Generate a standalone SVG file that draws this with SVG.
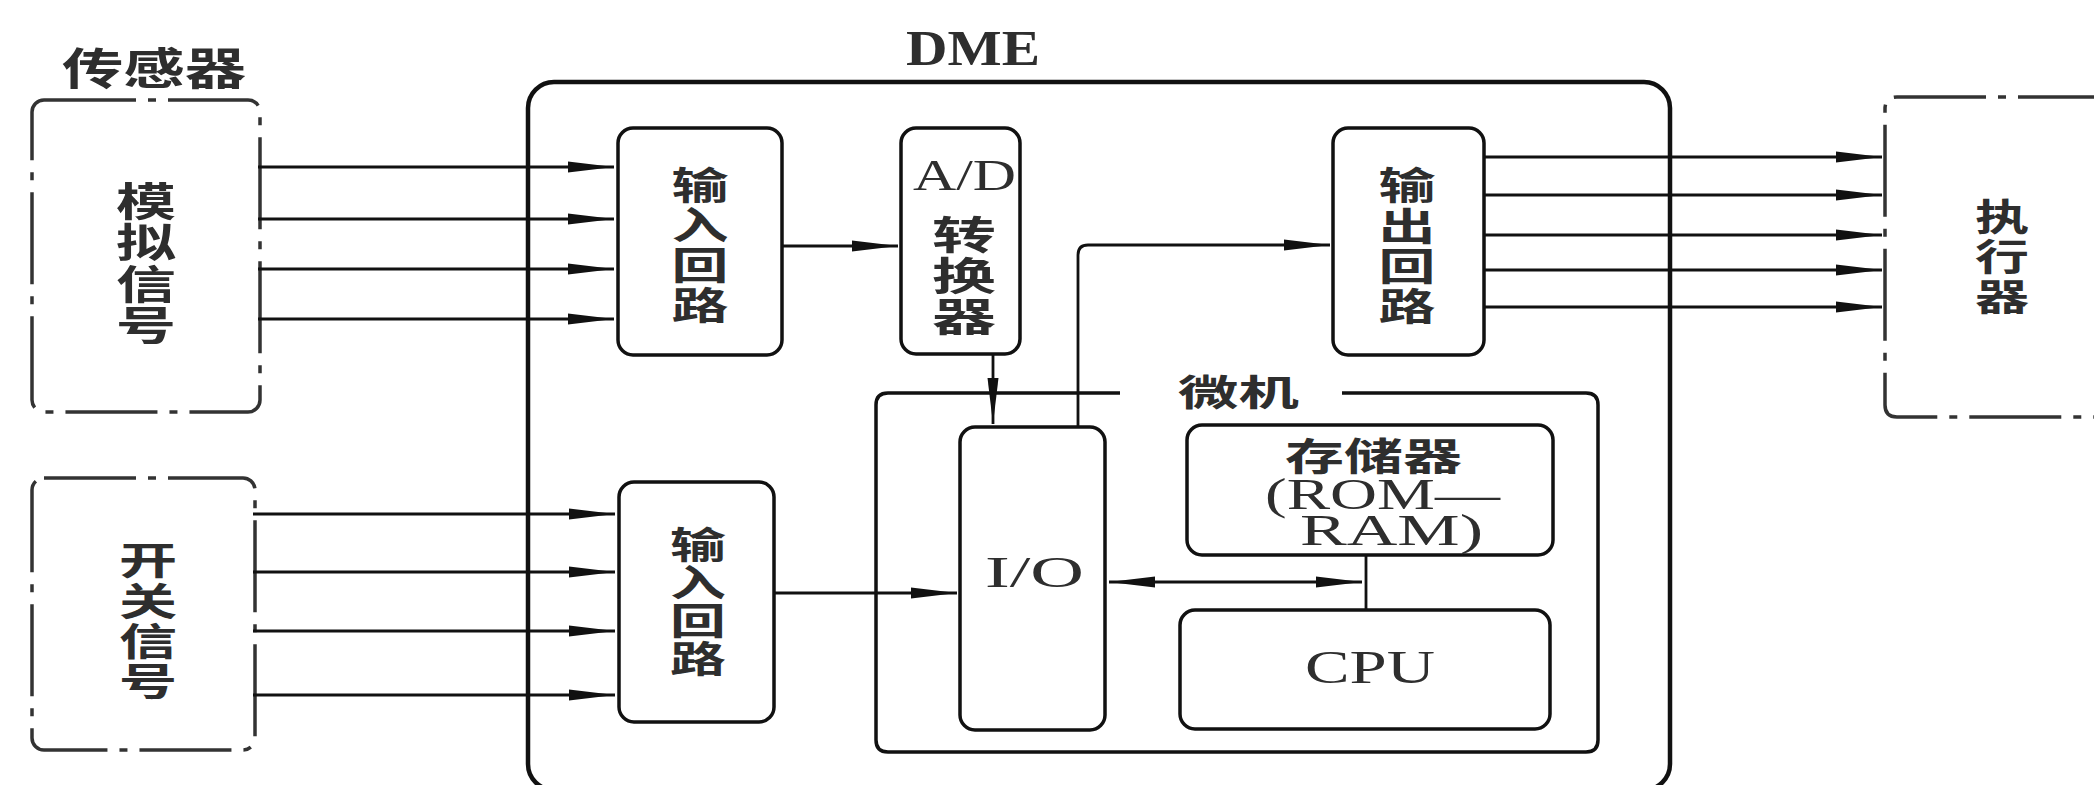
<svg xmlns="http://www.w3.org/2000/svg" width="2094" height="785" viewBox="0 0 2094 785">
<style>
.box{fill:none;stroke:#111;stroke-width:3.5}
.dme{fill:none;stroke:#111;stroke-width:4.5}
.dash{fill:none;stroke:#333;stroke-width:3.5;stroke-dasharray:92 12 8 12}
.ln{fill:none;stroke:#111;stroke-width:2.8}
.arr{marker-end:url(#ah)}
.cjk{font-family:"Noto Sans CJK SC","Noto Sans CJK JP",sans-serif;font-weight:bold;fill:#2e2e2e}
.vt{writing-mode:vertical-rl}
.lat{font-family:"Liberation Serif","Times New Roman",serif;fill:#2e2e2e}
</style>
<defs>
<marker id="ah" markerUnits="userSpaceOnUse" markerWidth="52" markerHeight="14" refX="46" refY="6" orient="auto-start-reverse">
<path d="M0,0.5 L46,6 L0,11.5 Z" fill="#111"/>
</marker>
</defs>
<rect width="2094" height="785" fill="#fff"/>

<g id="sensor">
<text class="cjk" x="62" y="85" font-size="44" textLength="184" lengthAdjust="spacingAndGlyphs">传感器</text>
<rect class="dash" x="32" y="100" width="228" height="312" rx="12"/>
<text class="cjk vt" font-size="40" letter-spacing="1.3" transform="translate(146,0) scale(1.5,1)" x="0" y="181">模拟信号</text>
</g>

<g id="switch">
<rect class="dash" x="32" y="478" width="223" height="272" rx="12"/>
<text class="cjk vt" font-size="38" letter-spacing="2.3" transform="translate(148,0) scale(1.53,1)" x="0" y="541">开关信号</text>
</g>

<g id="dme">
<text class="lat" x="906" y="65" font-size="50" font-weight="bold" textLength="134" lengthAdjust="spacingAndGlyphs">DME</text>
<rect class="dme" x="528" y="82" width="1142" height="708" rx="26"/>
</g>

<g id="input1">
<rect class="box" x="618" y="128" width="164" height="227" rx="15"/>
<text class="cjk vt" font-size="38" letter-spacing="1.7" transform="translate(700,0) scale(1.5,1)" x="0" y="166">输入回路</text>
</g>

<g id="input2">
<rect class="box" x="619" y="482" width="155" height="240" rx="15"/>
<text class="cjk vt" font-size="37" letter-spacing="1" transform="translate(698,0) scale(1.51,1)" x="0" y="526">输入回路</text>
</g>

<g id="ad">
<rect class="box" x="901" y="128" width="119" height="226" rx="15"/>
<text class="lat" x="913" y="190" font-size="45" textLength="103" lengthAdjust="spacingAndGlyphs">A/D</text>
<text class="cjk vt" font-size="39" letter-spacing="2" transform="translate(964,0) scale(1.64,1)" x="0" y="215">转换器</text>
</g>

<g id="output">
<rect class="box" x="1333" y="128" width="151" height="227" rx="15"/>
<text class="cjk vt" font-size="38" letter-spacing="2.3" transform="translate(1407,0) scale(1.5,1)" x="0" y="166">输出回路</text>
</g>

<g id="actuator">
<path class="dash" d="M2110,97 H1897 Q1885,97 1885,109 V405 Q1885,417 1897,417 H2110"/>
<text class="cjk vt" font-size="37" letter-spacing="3" transform="translate(2002,0) scale(1.46,1)" x="0" y="198">执行器</text>
</g>

<g id="micro">
<path class="box" d="M1120,393 H888 Q876,393 876,405 V740 Q876,752 888,752 H1586 Q1598,752 1598,740 V405 Q1598,393 1586,393 H1342"/>
<text class="cjk" x="1178" y="406" font-size="36" textLength="121" lengthAdjust="spacingAndGlyphs">微机</text>
</g>

<g id="io">
<rect class="box" x="960" y="427" width="145" height="303" rx="15"/>
<text class="lat" x="985" y="587" font-size="44" textLength="99" lengthAdjust="spacingAndGlyphs">I/O</text>
</g>

<g id="memory">
<rect class="box" x="1187" y="425" width="366" height="130" rx="15"/>
<text class="cjk" x="1285" y="470" font-size="38" textLength="177" lengthAdjust="spacingAndGlyphs">存储器</text>
<text class="lat" x="1265" y="509" font-size="44" textLength="235" lengthAdjust="spacingAndGlyphs">(ROM—</text>
<text class="lat" x="1300" y="545" font-size="44" textLength="183" lengthAdjust="spacingAndGlyphs">RAM)</text>
</g>

<g id="cpu">
<rect class="box" x="1180" y="610" width="370" height="119" rx="15"/>
<text class="lat" x="1305" y="683" font-size="47" textLength="130" lengthAdjust="spacingAndGlyphs">CPU</text>
</g>

<g id="connectors">
<path class="ln arr" d="M258,167 H614"/>
<path class="ln arr" d="M258,219 H614"/>
<path class="ln arr" d="M258,269 H614"/>
<path class="ln arr" d="M258,319 H614"/>
<path class="ln arr" d="M253,514 H615"/>
<path class="ln arr" d="M253,572 H615"/>
<path class="ln arr" d="M253,631 H615"/>
<path class="ln arr" d="M253,695 H615"/>
<path class="ln arr" d="M782,246 H898"/>
<path class="ln arr" d="M993,354 V424"/>
<path class="ln arr" d="M1078,427 V255 Q1078,245 1088,245 H1330"/>
<path class="ln arr" d="M774,593 H957"/>
<path class="ln arr" d="M1109,582 H1362" marker-start="url(#ah)"/>
<path class="ln" d="M1366,555 V610" stroke-width="5"/>
<path class="ln arr" d="M1484,157 H1882"/>
<path class="ln arr" d="M1484,195 H1882"/>
<path class="ln arr" d="M1484,235 H1882"/>
<path class="ln arr" d="M1484,270 H1882"/>
<path class="ln arr" d="M1484,307 H1882"/>
</g>
</svg>
